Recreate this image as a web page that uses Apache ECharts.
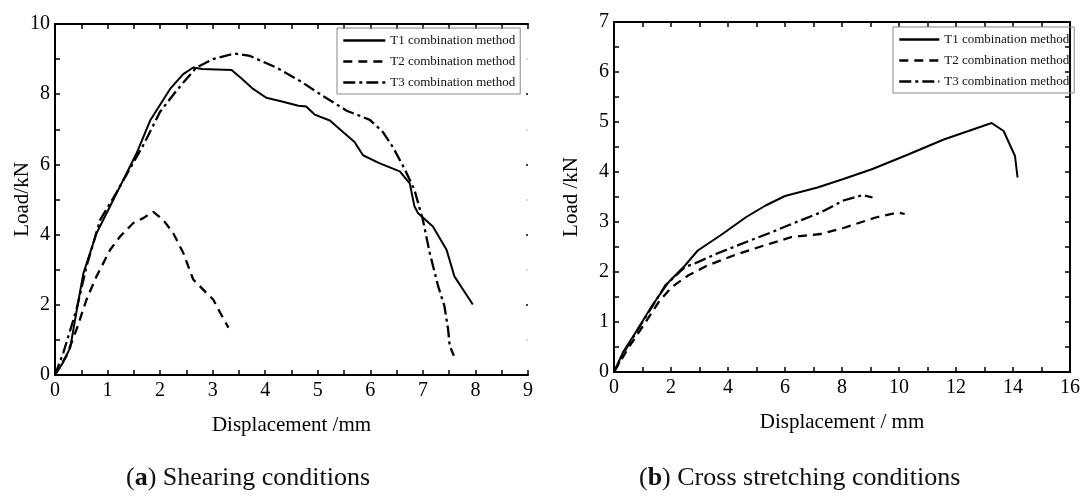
<!DOCTYPE html>
<html>
<head>
<meta charset="utf-8">
<script src="https://cdn.jsdelivr.net/npm/echarts@6.0.0/dist/echarts.min.js"></script>
<style>
  html, body { margin: 0; padding: 0; background: #fff; }
  #main { width: 1083px; height: 498px; }
</style>
</head>
<body>
<div id="main"></div>
<script>
// series names (legend)
var seriesNames = ['T1 combination method', 'T2 combination method', 'T3 combination method'];

// (a) shearing: displacement (mm) / load (kN)
var shearT1X = [0, 0.15, 0.29, 0.42, 0.54, 0.79, 1.17, 1.55, 1.81, 2.19, 2.44, 2.63, 2.8, 3.36, 3.55, 3.77, 4.02, 4.3, 4.63, 4.78, 4.94, 5.23, 5.48, 5.70, 5.86, 6.18, 6.56, 6.75, 6.84, 6.91, 7.19, 7.45, 7.60, 7.95];
var shearT1Y = [0, 0.35, 0.78, 1.9, 2.9, 4.04, 5.17, 6.31, 7.25, 8.15, 8.57, 8.76, 8.72, 8.69, 8.45, 8.15, 7.9, 7.8, 7.67, 7.65, 7.42, 7.25, 6.92, 6.64, 6.26, 6.03, 5.80, 5.46, 4.80, 4.61, 4.23, 3.57, 2.81, 2.01];
var shearT2X = [0, 0.22, 0.41, 0.6, 0.79, 1.05, 1.24, 1.49, 1.68, 1.87, 2.06, 2.25, 2.44, 2.63, 2.88, 3.01, 3.14, 3.30];
var shearT2Y = [0, 0.55, 1.30, 2.15, 2.81, 3.57, 3.95, 4.33, 4.47, 4.65, 4.42, 4.04, 3.48, 2.72, 2.34, 2.15, 1.78, 1.35];
var shearT3X = [0, 0.16, 0.41, 0.6, 0.86, 1.17, 1.68, 2.0, 2.31, 2.69, 3.01, 3.42, 3.71, 4.21, 4.66, 5.10, 5.55, 5.99, 6.24, 6.43, 6.65, 6.84, 7.0, 7.13, 7.29, 7.41, 7.48, 7.51, 7.59];
var shearT3Y = [0, 0.64, 1.87, 3.1, 4.42, 5.2, 6.55, 7.5, 8.1, 8.76, 9.0, 9.16, 9.09, 8.76, 8.38, 7.95, 7.53, 7.27, 6.92, 6.49, 5.88, 5.27, 4.42, 3.48, 2.53, 1.96, 1.30, 0.83, 0.55];

// (b) cross stretching
var crossT1X = [0, 0.33, 0.78, 1.35, 1.92, 2.49, 2.94, 3.73, 4.64, 5.32, 6.0, 7.14, 8.05, 9.07, 10.32, 11.57, 12.59, 13.25, 13.67, 14.07, 14.16];
var crossT1Y = [0, 0.41, 0.81, 1.34, 1.80, 2.13, 2.43, 2.73, 3.10, 3.33, 3.52, 3.69, 3.86, 4.06, 4.35, 4.65, 4.85, 4.98, 4.82, 4.32, 3.89];
var crossT2X = [0, 0.5, 1.12, 1.58, 2.03, 2.6, 3.28, 4.19, 5.10, 6.23, 7.25, 8.05, 9.18, 9.98, 10.2];
var crossT2Y = [0, 0.48, 1.01, 1.41, 1.70, 1.93, 2.13, 2.33, 2.50, 2.70, 2.76, 2.88, 3.09, 3.19, 3.16];
var crossT3X = [0, 0.44, 1.01, 1.81, 2.49, 2.83, 3.62, 4.64, 5.55, 6.23, 7.25, 8.05, 8.73, 9.07];
var crossT3Y = [0, 0.48, 1.01, 1.74, 2.10, 2.17, 2.37, 2.60, 2.80, 2.96, 3.19, 3.43, 3.54, 3.49];

// captions
var captionA = '({b|a}) Shearing conditions';
var captionB = '({b|b}) Cross stretching conditions';

var serif = '"Liberation Serif", "Times New Roman", serif';

function pairs(xs, ys) {
    return xs.map(function (x, i) { return [x, ys[i]]; });
}

// line styles: solid / dashed / dash-dot
var lineTypes = ['solid', [9, 6], [12, 4, 3, 4]];

function makeSeries(name, data, typeIdx, axisIdx) {
    return {
        name: name,
        type: 'line',
        xAxisIndex: axisIdx,
        yAxisIndex: axisIdx,
        data: data,
        symbol: 'none',
        showSymbol: false,
        smooth: false,
        silent: true,
        lineStyle: { color: '#000', width: typeIdx === 0 ? 2 : 2.3, type: lineTypes[typeIdx] },
        itemStyle: { color: '#000' }
    };
}

function xAx(grid, pos, max, interval, name, showLabel) {
    return {
        type: 'value', gridIndex: grid, position: pos, min: 0, max: max, interval: interval,
        axisLine: { show: true, onZero: false, lineStyle: { color: '#000', width: 2 } },
        axisTick: { show: true, inside: true, length: 5, lineStyle: { color: '#000', width: 1.5 } },
        minorTick: { show: true, splitNumber: 2, length: 5, lineStyle: { color: '#000', width: 1.5 } },
        splitLine: { show: false },
        axisLabel: { show: showLabel, color: '#000', fontFamily: serif, fontSize: 20, margin: 6 },
        name: name, nameLocation: 'middle', nameGap: 40,
        nameTextStyle: { color: '#000', fontFamily: serif, fontSize: 21 }
    };
}

function yAx(grid, pos, max, interval, name, nameGap, showLabel, showLine) {
    return {
        type: 'value', gridIndex: grid, position: pos, min: 0, max: max, interval: interval,
        axisLine: { show: showLine, onZero: false, lineStyle: { color: '#000', width: 2 } },
        axisTick: { show: true, inside: true, length: showLine ? 5 : 2, lineStyle: { color: '#000', width: 1.5 } },
        minorTick: { show: true, splitNumber: 2, length: showLine ? 5 : 2, lineStyle: { color: showLine ? '#000' : '#ccc', width: 1.5 } },
        splitLine: { show: false },
        axisLabel: { show: showLabel, color: '#000', fontFamily: serif, fontSize: 20, margin: 5 },
        name: name, nameLocation: 'middle', nameGap: nameGap, nameMoveOverlap: false,
        nameTextStyle: { color: '#000', fontFamily: serif, fontSize: 21 }
    };
}

function makeLegend(left, top, iconW) {
    return {
        data: seriesNames,
        orient: 'vertical',
        left: left, top: top,
        itemWidth: iconW, itemHeight: 14, itemGap: 8,
        padding: [6, 5, 5, 5],
        borderColor: '#888', borderWidth: 1,
        selectedMode: false,
        itemStyle: { opacity: 0 },
        lineStyle: { width: 2.6 },
        textStyle: { color: '#111', fontFamily: serif, fontSize: 13 }
    };
}

var chart = echarts.init(document.getElementById('main'), null, { renderer: 'canvas' });

var option = {
    backgroundColor: '#fff',
    animation: false,
    title: [
        { text: captionA, left: 121, top: 460, textStyle: { color: '#111', fontFamily: serif, fontSize: 26, fontWeight: 'normal', rich: { b: { fontFamily: serif, fontSize: 26, fontWeight: 'bold', color: '#111' } } } },
        { text: captionB, left: 634, top: 460, textStyle: { color: '#111', fontFamily: serif, fontSize: 26, fontWeight: 'normal', rich: { b: { fontFamily: serif, fontSize: 26, fontWeight: 'bold', color: '#111' } } } }
    ],
    legend: [makeLegend(337, 28, 42), makeLegend(893, 27, 40)],
    grid: [
        { left: 55, top: 24, width: 473, height: 351 },
        { left: 614, top: 22, width: 468, height: 350 }
    ],
    xAxis: [
        xAx(0, 'bottom', 9, 1, 'Displacement /mm', true),
        xAx(0, 'top', 9, 1, '', false),
        xAx(1, 'bottom', 16, 2, 'Displacement / mm', true),
        xAx(1, 'top', 16, 2, '', false)
    ],
    yAxis: [
        yAx(0, 'left', 10, 2, 'Load/kN', 22, true, true),
        yAx(0, 'right', 10, 2, '', 0, false, false),
        yAx(1, 'left', 7, 1, 'Load /kN', 32, true, true),
        yAx(1, 'right', 7, 1, '', 0, false, true)
    ],
    series: [
        makeSeries(seriesNames[0], pairs(shearT1X, shearT1Y), 0, 0),
        makeSeries(seriesNames[1], pairs(shearT2X, shearT2Y), 1, 0),
        makeSeries(seriesNames[2], pairs(shearT3X, shearT3Y), 2, 0),
        makeSeries(seriesNames[0], pairs(crossT1X, crossT1Y), 0, 2),
        makeSeries(seriesNames[1], pairs(crossT2X, crossT2Y), 1, 2),
        makeSeries(seriesNames[2], pairs(crossT3X, crossT3Y), 2, 2)
    ]
};

option && chart.setOption(option);
</script>
</body>
</html>
